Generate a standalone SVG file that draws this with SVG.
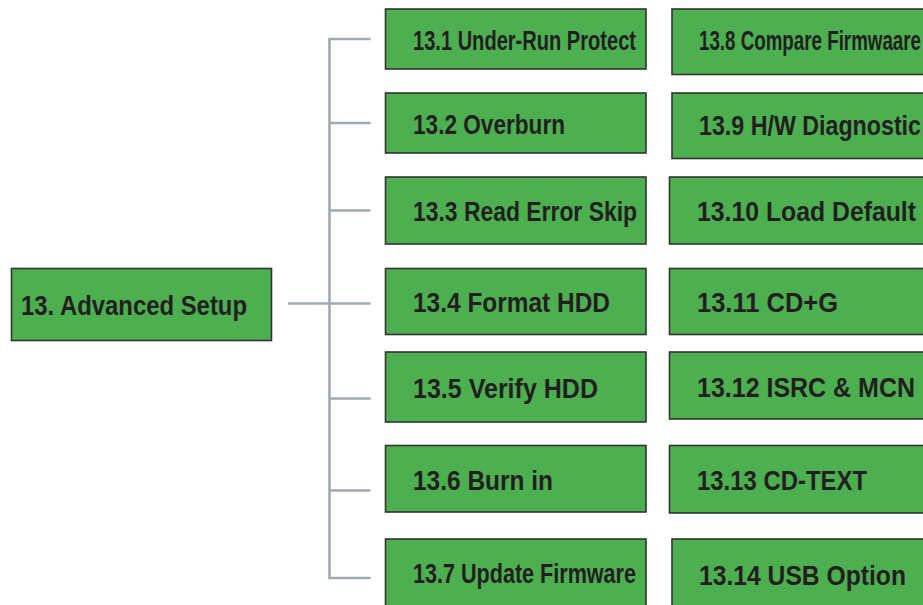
<svg xmlns="http://www.w3.org/2000/svg" width="923" height="605" viewBox="0 0 923 605">
<style>
.box{fill:#4caf50;stroke:#333333;stroke-width:1.6}
.t{font-family:"Liberation Sans",Arial,sans-serif;font-weight:bold;font-size:27px;fill:#231f20}
.c{stroke:#9eaab2;stroke-width:2.6;fill:none}
</style>
<rect width="923" height="605" fill="#ffffff"/>
<g id="connectors">
<path class="c" d="M288 303.5H329.5M370.5 39H329.5V578H370.5M329.5 123H370.5M329.5 210.5H370.5M329.5 303.5H370.5M329.5 398.5H370.5M329.5 490.5H370.5"/>
</g>
<g id="n13">
<rect class="box" x="11.5" y="268.5" width="260" height="72"/>
<text class="t" x="21" y="314.5" textLength="226" lengthAdjust="spacingAndGlyphs">13. Advanced Setup</text>
</g>
<g id="n13_1">
<rect class="box" x="385.5" y="9" width="260.5" height="60"/>
<text class="t" x="413" y="50" textLength="223" lengthAdjust="spacingAndGlyphs">13.1 Under-Run Protect</text>
</g>
<g id="n13_2">
<rect class="box" x="385.5" y="93" width="260.5" height="60"/>
<text class="t" x="413" y="133.5" textLength="152" lengthAdjust="spacingAndGlyphs">13.2 Overburn</text>
</g>
<g id="n13_3">
<rect class="box" x="385.5" y="177" width="260.5" height="67"/>
<text class="t" x="413" y="221" textLength="224" lengthAdjust="spacingAndGlyphs">13.3 Read Error Skip</text>
</g>
<g id="n13_4">
<rect class="box" x="385.5" y="268.5" width="260.5" height="66"/>
<text class="t" x="413" y="311.7" textLength="197" lengthAdjust="spacingAndGlyphs">13.4 Format HDD</text>
</g>
<g id="n13_5">
<rect class="box" x="385.5" y="352" width="260.5" height="70"/>
<text class="t" x="413" y="397.7" textLength="185" lengthAdjust="spacingAndGlyphs">13.5 Verify HDD</text>
</g>
<g id="n13_6">
<rect class="box" x="385.5" y="445.5" width="260.5" height="66.5"/>
<text class="t" x="413" y="490" textLength="140" lengthAdjust="spacingAndGlyphs">13.6 Burn in</text>
</g>
<g id="n13_7">
<rect class="box" x="385.5" y="539" width="260.5" height="80"/>
<text class="t" x="413" y="582.7" textLength="223" lengthAdjust="spacingAndGlyphs">13.7 Update Firmware</text>
</g>
<g id="n13_8">
<rect class="box" x="672" y="9" width="270" height="65.5"/>
<text class="t" x="699" y="50" textLength="222" lengthAdjust="spacingAndGlyphs">13.8 Compare Firmwaare</text>
</g>
<g id="n13_9">
<rect class="box" x="672" y="93" width="270" height="65.5"/>
<text class="t" x="699" y="135" textLength="222" lengthAdjust="spacingAndGlyphs">13.9 H/W Diagnostic</text>
</g>
<g id="n13_10">
<rect class="box" x="669.5" y="177" width="270" height="67"/>
<text class="t" x="697" y="220.7" textLength="219" lengthAdjust="spacingAndGlyphs">13.10 Load Default</text>
</g>
<g id="n13_11">
<rect class="box" x="669.5" y="268.5" width="270" height="66"/>
<text class="t" x="697" y="311.5" textLength="141" lengthAdjust="spacingAndGlyphs">13.11 CD+G</text>
</g>
<g id="n13_12">
<rect class="box" x="669.5" y="352" width="270" height="67"/>
<text class="t" x="697" y="396.7" textLength="218" lengthAdjust="spacingAndGlyphs">13.12 ISRC &amp; MCN</text>
</g>
<g id="n13_13">
<rect class="box" x="669.5" y="445.5" width="270" height="67.5"/>
<text class="t" x="697" y="490" textLength="170" lengthAdjust="spacingAndGlyphs">13.13 CD-TEXT</text>
</g>
<g id="n13_14">
<rect class="box" x="672" y="539" width="270" height="80"/>
<text class="t" x="699" y="585" textLength="207" lengthAdjust="spacingAndGlyphs">13.14 USB Option</text>
</g>
</svg>
